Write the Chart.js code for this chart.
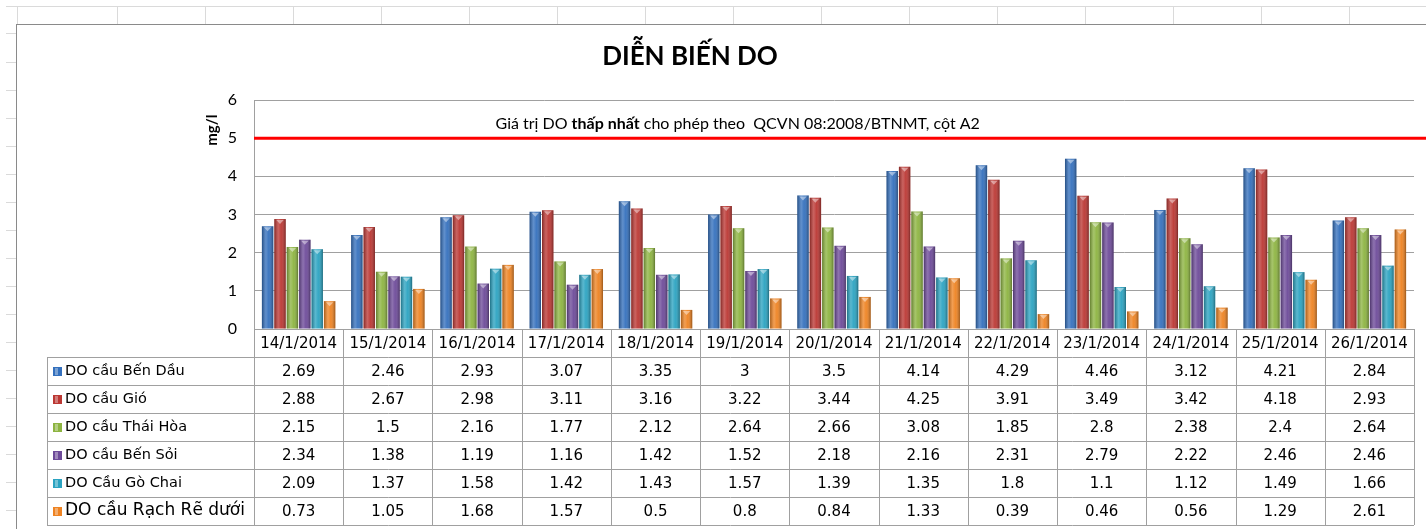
<!DOCTYPE html>
<html>
<head>
<meta charset="utf-8">
<script src="https://cdn.jsdelivr.net/npm/chart.js@4.4.0/dist/chart.umd.min.js"></script>
<style>
body { margin:0; width:1426px; height:529px; overflow:hidden; background:#fff; position:relative; }
#topStrip { position:absolute; left:6px; top:6px; width:1420px; height:18px; border-top:1px solid #dadada;
  background-image:repeating-linear-gradient(to right, transparent 0, transparent 87px, #dadada 87px, #dadada 88px);
  background-position:24px 0; }
#leftStrip { position:absolute; left:6px; top:24px; width:10px; height:505px;
  background-image:repeating-linear-gradient(to bottom, transparent 0, transparent 27px, #dadada 27px, #dadada 28px);
  background-position:0 11px; }
#box { position:absolute; left:16px; top:24px; width:1410px; height:505px; box-sizing:border-box;
  border-left:1px solid #8a8a8a; border-top:1px solid #8a8a8a; background:#fff; }
#wrap { position:absolute; left:17px; top:25px; width:1409px; height:504px; }
</style>
</head>
<body>
<div id="topStrip"></div>
<div id="leftStrip"></div>
<div id="box"></div>
<div id="wrap"><canvas id="myChart"></canvas></div>
<script>
const chartTitle = 'DIỄN BIẾN DO';
const yTitle = 'mg/l';
const dates = ['14/1/2014', '15/1/2014', '16/1/2014', '17/1/2014', '18/1/2014', '19/1/2014', '20/1/2014',
    '21/1/2014', '22/1/2014', '23/1/2014', '24/1/2014', '25/1/2014', '26/1/2014'];
const stations = ['DO cầu Bến Dầu', 'DO cầu Gió', 'DO cầu Thái Hòa', 'DO cầu Bến Sỏi', 'DO Cầu Gò Chai', 'DO cầu Rạch Rẽ dưới'];
const benDau = [2.69, 2.46, 2.93, 3.07, 3.35, 3, 3.5, 4.14, 4.29, 4.46, 3.12, 4.21, 2.84];
const gio = [2.88, 2.67, 2.98, 3.11, 3.16, 3.22, 3.44, 4.25, 3.91, 3.49, 3.42, 4.18, 2.93];
const thaiHoa = [2.15, 1.5, 2.16, 1.77, 2.12, 2.64, 2.66, 3.08, 1.85, 2.8, 2.38, 2.4, 2.64];
const benSoi = [2.34, 1.38, 1.19, 1.16, 1.42, 1.52, 2.18, 2.16, 2.31, 2.79, 2.22, 2.46, 2.46];
const goChai = [2.09, 1.37, 1.58, 1.42, 1.43, 1.57, 1.39, 1.35, 1.8, 1.1, 1.12, 1.49, 1.66];
const rachRe = [0.73, 1.05, 1.68, 1.57, 0.5, 0.8, 0.84, 1.33, 0.39, 0.46, 0.56, 1.29, 2.61];
const yTicks = [0, 1, 2, 3, 4, 5, 6];
const doMin = 5;
const doMinNote = ['Giá trị DO ', 'thấp nhất', ' cho phép theo  QCVN 08:2008/BTNMT, cột A2'];

const series = [benDau, gio, thaiHoa, benSoi, goChai, rachRe];
const colors = ['#3470bd', '#bb3733', '#8db441', '#6d4a99', '#2ba3c1', '#ee8322'];

// 3D-ish shading over the bars, like the Excel cylinders
const barShade = {
    id: 'barShade',
    afterDatasetsDraw(chart) {
        const ctx = chart.ctx;
        chart.data.datasets.forEach((ds, di) => {
            chart.getDatasetMeta(di).data.forEach(bar => {
                const left = bar.x - bar.width / 2;
                const h = bar.base - bar.y;
                const g = ctx.createLinearGradient(left, 0, left + bar.width, 0);
                g.addColorStop(0, 'rgba(0,0,0,0.30)');
                g.addColorStop(0.35, 'rgba(255,255,255,0.22)');
                g.addColorStop(0.6, 'rgba(255,255,255,0.05)');
                g.addColorStop(1, 'rgba(0,0,0,0.35)');
                ctx.save();
                ctx.fillStyle = g;
                ctx.fillRect(left, bar.y, bar.width, h);
                ctx.fillStyle = 'rgba(255,255,255,0.45)';
                ctx.beginPath();
                ctx.moveTo(left + 2, bar.y + 1);
                ctx.lineTo(left + bar.width - 2, bar.y + 1);
                ctx.lineTo(bar.x, bar.y + 5);
                ctx.closePath();
                ctx.fill();
                ctx.restore();
            });
        });
    }
};

// title, red limit line and its note
const limitLine = {
    id: 'limitLine',
    afterDraw(chart) {
        const ctx = chart.ctx, area = chart.chartArea, y = chart.scales.y.getPixelForValue(doMin);
        ctx.save();
        ctx.fillStyle = '#000';
        ctx.textAlign = 'center';
        ctx.textBaseline = 'alphabetic';
        ctx.font = 'bold 26px Lato';
        ctx.fillText(chartTitle, 673, 40);

        ctx.strokeStyle = '#ff0000';
        ctx.lineWidth = 3;
        ctx.beginPath();
        ctx.moveTo(area.left, y);
        ctx.lineTo(chart.width, y);
        ctx.stroke();

        const fonts = ['16px Lato', 'bold 16px Lato', '16px Lato'];
        let total = 0;
        const widths = doMinNote.map((t, i) => { ctx.font = fonts[i]; const w = ctx.measureText(t).width; total += w; return w; });
        let x = area.left + 0.417 * (area.right - area.left) - total / 2;
        ctx.textBaseline = 'middle';
        ctx.textAlign = 'left';
        doMinNote.forEach((t, i) => {
            ctx.font = fonts[i];
            ctx.fillText(t, x, y - 14);
            x += widths[i];
        });
        ctx.restore();
    }
};

// data table under the plot
const dataTable = {
    id: 'dataTable',
    afterDraw(chart) {
        const ctx = chart.ctx, area = chart.chartArea, xs = chart.scales.x;
        const rowH = 28, top = area.bottom, n = dates.length, legendLeft = 30;
        const bounds = [area.left];
        for (let i = 1; i < n; i++) bounds.push((xs.getPixelForValue(i - 1) + xs.getPixelForValue(i)) / 2);
        bounds.push(area.right);

        ctx.save();
        ctx.strokeStyle = '#a0a0a0';
        ctx.lineWidth = 1;
        ctx.beginPath();
        bounds.forEach(b => {
            const bx = Math.round(b) + 0.5;
            ctx.moveTo(bx, top);
            ctx.lineTo(bx, top + rowH * 7);
        });
        ctx.moveTo(legendLeft + 0.5, top + rowH);
        ctx.lineTo(legendLeft + 0.5, top + rowH * 7);
        for (let k = 1; k <= 7; k++) {
            const yy = Math.round(top + rowH * k) + 0.5;
            ctx.moveTo(legendLeft, yy);
            ctx.lineTo(area.right, yy);
        }
        ctx.stroke();

        ctx.textBaseline = 'middle';
        series.forEach((vals, r) => {
            const cy = top + rowH * (r + 1) + rowH / 2;
            // legend key
            ctx.fillStyle = colors[r];
            ctx.fillRect(36, cy - 4, 9, 9);
            ctx.fillStyle = 'rgba(255,255,255,0.35)';
            ctx.fillRect(38, cy - 3, 3, 7);
            ctx.fillStyle = '#000';
            ctx.textAlign = 'left';
            ctx.font = (r === series.length - 1 ? '17px' : '14.5px') + ' "DejaVu Sans"';
            ctx.fillText(stations[r], 48, cy);
            ctx.textAlign = 'center';
            ctx.font = '15px "DejaVu Sans"';
            vals.forEach((v, i) => ctx.fillText(String(v), xs.getPixelForValue(i), cy + 1));
        });
        ctx.restore();
    }
};

const ctx = document.getElementById('myChart').getContext('2d');
const myChart = new Chart(ctx, {
    type: 'bar',
    data: {
        labels: dates,
        datasets: series.map((vals, i) => ({
            label: stations[i],
            data: vals,
            backgroundColor: colors[i],
            borderWidth: 0,
            categoryPercentage: 0.834,
            barPercentage: 0.92
        }))
    },
    options: {
        responsive: true,
        maintainAspectRatio: false,
        animation: false,
        layout: { padding: { left: 186, right: 12, top: 75, bottom: 0 } },
        plugins: {
            legend: { display: false },
            tooltip: { enabled: false },
            title: { display: false }
        },
        scales: {
            x: {
                grid: { display: false, drawTicks: false },
                border: { display: false },
                ticks: { color: '#000', font: { family: 'DejaVu Sans', size: 15 }, padding: 6, maxRotation: 0 },
                afterFit: s => { s.height = 200; }
            },
            y: {
                min: yTicks[0],
                max: yTicks[yTicks.length - 1],
                afterBuildTicks: s => { s.ticks = yTicks.map(v => ({ value: v })); },
                grid: { color: '#a0a0a0', drawTicks: false },
                border: { color: '#a0a0a0' },
                ticks: { color: '#000', font: { family: 'Lato', size: 16 }, padding: 17 },
                title: { display: true, text: yTitle + '    ', align: 'end', color: '#000', font: { family: 'Lato', size: 15, weight: 'bold' }, padding: 0 },
                afterFit: s => { s.width = 51; }
            }
        }
    },
    plugins: [barShade, limitLine, dataTable]
});
</script>
</body>
</html>
